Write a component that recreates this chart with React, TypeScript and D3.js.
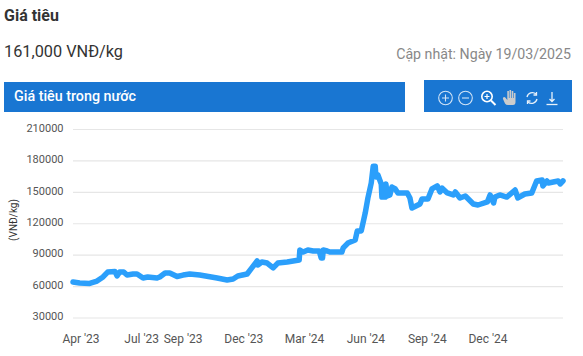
import React from "react";
import * as d3 from "d3";

const dates = ["2023-03-20","2023-03-30","2023-04-14","2023-04-25","2023-05-04","2023-05-11","2023-05-22","2023-05-25","2023-05-29","2023-06-04","2023-06-09","2023-06-18","2023-06-24","2023-07-03","2023-07-10","2023-07-24","2023-07-28","2023-08-05","2023-08-12","2023-08-23","2023-09-01","2023-09-11","2023-09-26","2023-10-22","2023-11-06","2023-11-15","2023-11-22","2023-12-06","2023-12-13","2023-12-21","2023-12-22","2023-12-28","2024-01-05","2024-01-14","2024-01-21","2024-02-04","2024-02-22","2024-02-23","2024-02-28","2024-03-06","2024-03-14","2024-03-23","2024-03-26","2024-03-28","2024-03-29","2024-04-04","2024-04-08","2024-04-26","2024-04-28","2024-05-05","2024-05-16","2024-05-19","2024-05-25","2024-05-31","2024-06-04","2024-06-09","2024-06-12","2024-06-15","2024-06-16","2024-06-19","2024-06-24","2024-06-25","2024-06-30","2024-07-01","2024-07-03","2024-07-07","2024-07-10","2024-07-15","2024-07-19","2024-07-27","2024-08-02","2024-08-06","2024-08-09","2024-08-21","2024-08-24","2024-09-02","2024-09-08","2024-09-16","2024-09-20","2024-09-23","2024-10-01","2024-10-10","2024-10-13","2024-10-20","2024-10-28","2024-11-09","2024-11-16","2024-11-30","2024-12-04","2024-12-09","2024-12-11","2024-12-18","2024-12-28","2025-01-09","2025-01-13","2025-01-23","2025-02-02","2025-02-09","2025-02-17","2025-02-18","2025-02-24","2025-02-26","2025-03-05","2025-03-12","2025-03-15","2025-03-19"];
const prices = [64400,63400,63000,65300,69200,73900,74400,70100,73900,73900,71000,72000,72000,68200,69200,68200,69200,73000,73000,69600,71000,72000,71000,68200,66300,67200,70100,72000,77800,84400,80600,83500,82500,77800,82500,83500,85400,94900,93000,94900,94000,94000,87300,87300,94900,94000,93000,93000,96900,101600,104500,113100,113100,130300,144600,158900,175000,175000,164700,166600,158000,145500,145500,158000,146500,147500,155100,153200,149400,149400,149400,144600,135000,138900,143600,143600,153200,156100,150300,154100,149400,147500,150300,144600,146500,138900,137900,140800,147500,139800,145500,147500,145500,152200,144600,148400,149400,160800,161800,156100,160800,158900,159900,160800,158000,161000];
const yTicks = [30000,60000,90000,120000,150000,180000,210000];
const xTickDates = ["2023-04-01","2023-07-01","2023-09-01","2023-12-01","2024-03-01","2024-06-01","2024-09-01","2024-12-01"];
const xTickLabels = ["Apr '23","Jul '23","Sep '23","Dec '23","Mar '24","Jun '24","Sep '24","Dec '24"];

const FONT = "Roboto, sans-serif";
const parse = d3.utcParse("%Y-%m-%d");

export default function App() {
  const x = d3.scaleUtc()
    .domain([parse("2023-03-20")!, parse("2024-12-01")!, parse("2025-03-19")!])
    .range([73, 488, 563]);
  const y = d3.scaleLinear().domain([30000, 210000]).range([318, 129.5]);
  const line = d3.line<number>()
    .x((_, i) => x(parse(dates[i])!))
    .y((d) => y(d))
    .curve(d3.curveLinear);
  const ic = "#fff";
  return (
    <svg width={583} height={356} style={{ position: "fixed", left: 0, top: 0, background: "#fff" }} fontFamily={FONT}>
      <text x={4} y={21} fontSize={16} fontWeight={700} fill="#333">Giá tiêu</text>
      <text x={4} y={57} fontSize={16.3} fill="#333">161,000 VNĐ/kg</text>
      <text x={571} y={59} fontSize={14.2} fill="#888" textAnchor="end">Cập nhật: Ngày 19/03/2025</text>
      <rect x={4} y={82} width={401} height={30} fill="#1976d2" />
      <text x={14} y={101} fontSize={14.3} fontWeight={500} fill="#fff">Giá tiêu trong nước</text>
      <rect x={424} y={80} width={148} height={32} fill="#1976d2" />
      <g fill="none" stroke={ic} strokeWidth={1.1} opacity={0.8}>
        <circle cx={445.5} cy={98} r={6.8} />
        <path d="M442 98h7M445.500 94.500v7" />
        <circle cx={465.5} cy={98} r={6.8} />
        <path d="M462 98h7" />
      </g>
      <g fill="none" stroke={ic} strokeWidth={1.6}>
        <circle cx={487} cy={96.5} r={5.2} />
        <path d="M491 100.500l4.500 4.500" strokeWidth={2} />
        <path d="M484.500 96.500h5M487 94v5" strokeWidth={1.2} />
      </g>
      <path d="M503 99l2 4.500q1 1.500 3 1.500h5q2.500 0 2.500-3v-9h-1.600v5h-.6v-7h-1.600v7h-.6v-8h-1.600v8h-.6v-7h-1.600v9l-2-2.500q-1.400-1-2.400.5z" fill="#ccc" />
      <g fill="none" stroke={ic} strokeWidth={1.3} opacity={0.9}>
        <path d="M527 97a5.500 5.500 0 0 1 9-3" />
        <path d="M537 99a5.500 5.500 0 0 1-9 3" />
        <path d="M536.500 92v3h-3M527.500 104v-3h3" />
      </g>
      <g fill="none" stroke={ic} strokeWidth={1.3} opacity={0.9}>
        <path d="M552 92v9M549.500 99l2.500 2.500 2.500-2.500" />
        <path d="M546.500 104.500h11" />
      </g>

      {yTicks.map((t) => (
        <g key={t}>
          <line x1={73} x2={563} y1={y(t)} y2={y(t)} stroke="#e6e6e6" strokeWidth={1.2} />
          <text x={63.5} y={y(t) + 2.3} fontSize={11} fill="#555" textAnchor="end">{t}</text>
        </g>
      ))}
      <text transform="translate(17,220) rotate(-90)" fontSize={10} fill="#333" textAnchor="middle">(VNĐ/kg)</text>
      {xTickDates.map((d, i) => (
        <text key={d} x={x(parse(d)!)} y={342.5} fontSize={12} fill="#555" textAnchor="middle">{xTickLabels[i]}</text>
      ))}
      <path d={line(prices)!} fill="none" stroke="#2b9ffb" strokeWidth={5.5} strokeLinejoin="round" strokeLinecap="round" />
    </svg>
  );
}
